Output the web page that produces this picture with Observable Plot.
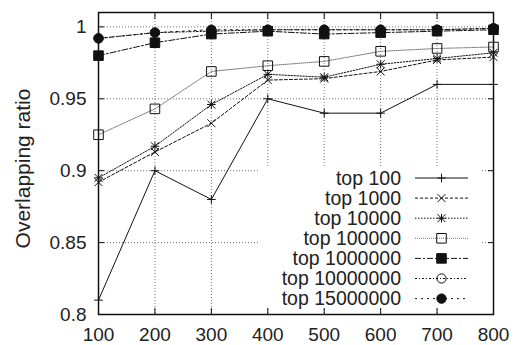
<!DOCTYPE html>
<html><head><meta charset="utf-8">
<script src="https://cdn.jsdelivr.net/npm/d3@7"></script>
<script src="https://cdn.jsdelivr.net/npm/@observablehq/plot@0.6"></script>
<style>body{margin:0;background:#fff}</style>
</head><body><div id="chart"></div>
<script>
// ---- data ----
const xValues = [100, 200, 300, 400, 500, 600, 700, 800];
const seriesNames = ["top 100", "top 1000", "top 10000", "top 100000", "top 1000000", "top 10000000", "top 15000000"];
const top100      = [0.810, 0.900, 0.880, 0.950, 0.940, 0.940, 0.960, 0.960];
const top1000     = [0.892, 0.913, 0.933, 0.963, 0.964, 0.969, 0.977, 0.979];
const top10000    = [0.895, 0.917, 0.946, 0.967, 0.965, 0.974, 0.978, 0.982];
const top100000   = [0.925, 0.943, 0.969, 0.973, 0.976, 0.983, 0.985, 0.986];
const top1000000  = [0.980, 0.989, 0.995, 0.997, 0.995, 0.996, 0.997, 0.998];
const top10000000 = [0.992, 0.996, 0.997, 0.998, 0.998, 0.998, 0.998, 0.999];
const top15000000 = [0.992, 0.996, 0.998, 0.998, 0.998, 0.998, 0.998, 0.999];
const seriesValues = [top100, top1000, top10000, top100000, top1000000, top10000000, top15000000];
const xTicks = [100, 200, 300, 400, 500, 600, 700, 800];
const yTicks = [0.8, 0.85, 0.9, 0.95, 1];
const yTickLabels = ["0.8", "0.85", "0.9", "0.95", "1"];
const yLabel = "Overlapping ratio";

// ---- styles ----
const lineStyles = [
  {dash: null,        stroke: "#111", sym: [["plus", 2.9]], fill: "none"},
  {dash: "3,2",       stroke: "#111", sym: [["times", 3.7]], fill: "none"},
  {dash: "1.5,1.5",   stroke: "#111", sym: [["plus", 2.9], ["times", 3.7]], fill: "none"},
  {dash: "1,1",       stroke: "#777", sym: [["square", 5.4]], fill: "none"},
  {dash: "6,2,2,2",   stroke: "#111", sym: [["square", 5.4]], fill: "#111"},
  {dash: "2,2,1,2",   stroke: "#111", sym: [["circle", 4.6]], fill: "none"},
  {dash: "2,4",       stroke: "#111", sym: [["circle", 4.7]], fill: "#111"}
];

const rows = [];
seriesNames.forEach((name, i) => {
  seriesValues[i].forEach((v, j) => rows.push({series: name, x: xValues[j], y: v}));
});

const W = 517, H = 345, mL = 98, mR = 24, mT = 12, mB = 31;
const font = "'Liberation Sans', Arial, Helvetica, sans-serif";

const marks = [
  Plot.gridX(xTicks.filter(t => t > 100 && t < 800), {stroke: "#000", strokeOpacity: 0.55, strokeDasharray: "1,2"}),
  Plot.gridY(yTicks.filter(t => t > 0.8), {stroke: "#000", strokeOpacity: 0.55, strokeDasharray: "1,2"})
];
seriesNames.forEach((name, i) => {
  const st = lineStyles[i];
  const data = rows.filter(d => d.series === name);
  marks.push(Plot.line(data, {x: "x", y: "y", stroke: st.stroke, strokeWidth: 1, strokeDasharray: st.dash}));
});
seriesNames.forEach((name, i) => {
  const st = lineStyles[i];
  const data = rows.filter(d => d.series === name);
  st.sym.forEach(([s, r]) => {
    marks.push(Plot.dot(data, {x: "x", y: "y", symbol: s, r, stroke: "#111", strokeWidth: 1, fill: st.fill}));
  });
});
marks.push(
  Plot.frame({stroke: "#111", strokeWidth: 1.5}),
  Plot.axisX({ticks: xTicks, anchor: "bottom", tickSize: 6, inset: 6, fill: "none", label: null, stroke: "#111"}),
  Plot.axisX({ticks: xTicks, anchor: "top", tickSize: 6, inset: 6, fill: "none", label: null, stroke: "#111"}),
  Plot.axisY({ticks: yTicks, anchor: "left", tickSize: 6, inset: 6, fill: "none", label: null, stroke: "#111"}),
  Plot.axisY({ticks: yTicks, anchor: "right", tickSize: 6, inset: 6, fill: "none", label: null, stroke: "#111"}),
  Plot.axisX({ticks: xTicks, anchor: "bottom", tickSize: 0, tickPadding: 13, label: null, fill: "#222", fontSize: 19}),
  Plot.axisY({ticks: yTicks, anchor: "left", tickSize: 0, tickPadding: 12, label: null, fill: "#222", fontSize: 19,
    tickFormat: d => yTickLabels[yTicks.indexOf(d)]}),
  Plot.text([yLabel], {frameAnchor: "left", textAnchor: "middle", rotate: -90, dx: -75, dy: 5, fontSize: 21, fill: "#222"})
);

const chart = Plot.plot({
  width: W, height: H,
  marginLeft: mL, marginRight: mR, marginTop: mT, marginBottom: mB,
  style: {fontFamily: font, background: "#fff", color: "#111"},
  x: {domain: [100, 800]},
  y: {domain: [0.8, 1.01]},
  marks
});
document.getElementById("chart").appendChild(chart);

// ---- legend (inside plot, bottom right) ----
const svg = d3.select(chart);
const right = W - mR, bottom = H - mB;
const lg = svg.append("g").attr("font-family", font).attr("font-size", 19.5);
lg.append("rect").attr("x", right - 235).attr("y", bottom - 147).attr("width", 222).attr("height", 140).attr("fill", "#fff");
const textX = right - 92, sx1 = right - 78, sx2 = right - 25, sxm = (sx1 + sx2) / 2;
const symMap = {plus: d3.symbolPlus, times: d3.symbolTimes, square: d3.symbolSquare, circle: d3.symbolCircle};
seriesNames.forEach((name, i) => {
  const st = lineStyles[i];
  const y = bottom - 136 + i * 20.1;
  lg.append("text").attr("x", textX).attr("y", y).attr("dy", "0.35em").attr("text-anchor", "end").attr("fill", "#222").text(name);
  lg.append("line").attr("x1", sx1).attr("x2", sx2).attr("y1", y).attr("y2", y)
    .attr("stroke", st.stroke).attr("stroke-width", 1).attr("stroke-dasharray", st.dash);
  st.sym.forEach(([s, r]) => {
    lg.append("path").attr("transform", `translate(${sxm},${y})`)
      .attr("d", d3.symbol(symMap[s], Math.PI * r * r)())
      .attr("fill", st.fill).attr("stroke", "#111").attr("stroke-width", 1);
  });
});
</script>
</body></html>
